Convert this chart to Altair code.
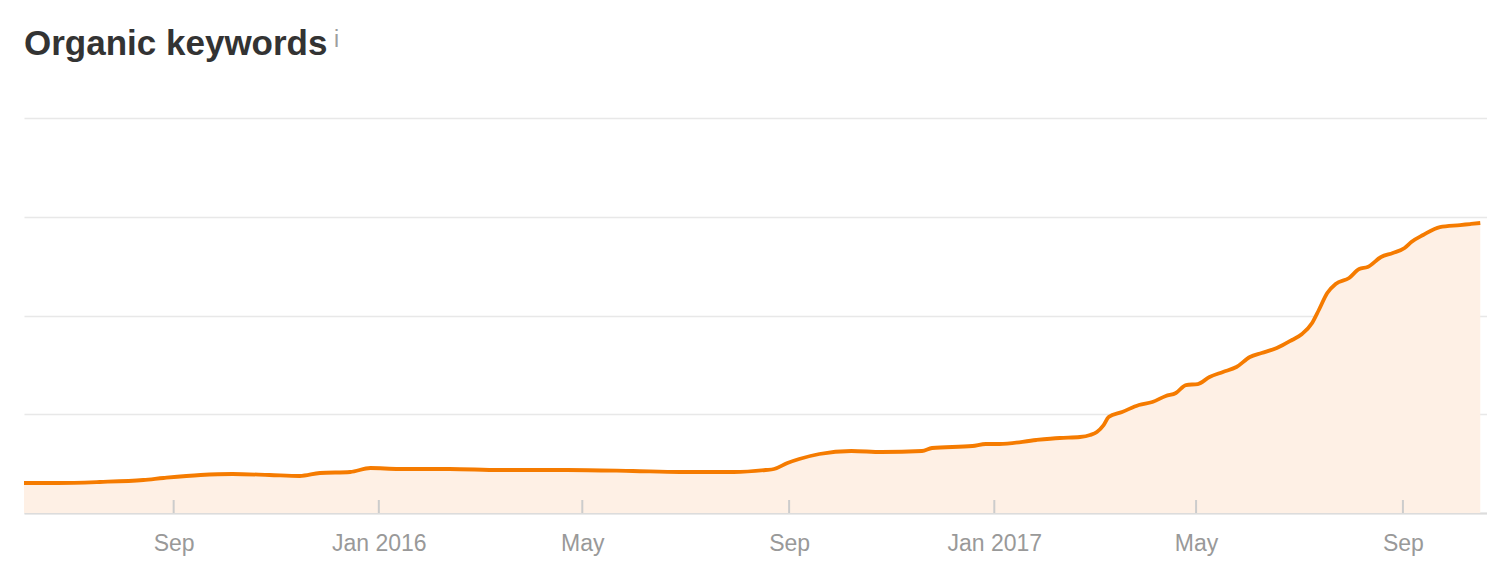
import altair as alt
import pandas as pd

# Organic keywords over time (y axis has no labels)
dates = [
    "2015-06-04", "2015-06-24", "2015-07-19", "2015-08-14", "2015-08-26",
    "2015-09-17", "2015-10-06", "2015-10-28", "2015-11-15", "2015-11-27",
    "2015-12-15", "2015-12-27", "2016-01-13", "2016-02-12", "2016-03-13",
    "2016-04-22", "2016-05-31", "2016-06-28", "2016-07-30", "2016-08-18",
    "2016-08-23", "2016-08-31", "2016-09-07", "2016-09-19", "2016-10-08",
    "2016-10-26", "2016-11-19", "2016-11-25", "2016-12-19", "2016-12-27",
    "2017-01-04", "2017-01-26", "2017-02-09", "2017-02-21", "2017-02-27",
    "2017-03-03", "2017-03-07", "2017-03-10", "2017-03-18", "2017-03-28",
    "2017-04-05", "2017-04-13", "2017-04-19", "2017-04-25", "2017-05-02",
    "2017-05-09", "2017-05-17", "2017-05-25", "2017-06-02", "2017-06-09",
    "2017-06-18", "2017-06-27", "2017-07-03", "2017-07-09", "2017-07-13",
    "2017-07-18", "2017-07-23", "2017-07-31", "2017-08-06", "2017-08-11",
    "2017-08-19", "2017-08-26", "2017-09-02", "2017-09-06", "2017-09-13",
    "2017-09-23", "2017-10-05", "2017-10-11", "2017-10-17",
]
values = [
    1519, 1519, 1570, 1671, 1772,
    1924, 1975, 1924, 1873, 2025,
    2076, 2278, 2228, 2228, 2177,
    2177, 2126, 2076, 2076, 2177,
    2228, 2532, 2734, 2987, 3139,
    3088, 3139, 3291, 3392, 3493,
    3493, 3696, 3797, 3848, 3949,
    4101, 4455, 4860, 5114, 5468,
    5620, 5924, 6076, 6480, 6531,
    6886, 7139, 7392, 7898, 8101,
    8354, 8759, 9063, 9620, 10278,
    11139, 11594, 11898, 12354, 12455,
    12961, 13164, 13417, 13721, 14075,
    14480, 14581, 14632, 14683,
]

tick_dates = ["2015-09-01", "2016-01-01", "2016-05-01", "2016-09-01",
              "2017-01-01", "2017-05-01", "2017-09-01"]
grid_values = [0, 5000, 10000, 15000, 20000]

title_text = ["Organic keywords"]
info_text = ["i"]

LINE = "#F57B00"
FILL = "#FEF0E5"
W, H = 1463, 395

df = pd.DataFrame({"date": [d + "T00:00:00" for d in dates], "value": values})
ticks_df = pd.DataFrame({"date": [d + "T00:00:00" for d in tick_dates]})
info_df = pd.DataFrame({"t": info_text})
title_df = pd.DataFrame({"t": title_text})


def dt(s):
    y, m, d = (int(p) for p in s.split("-"))
    return alt.DateTime(year=y, month=m, date=d)


x_enc = alt.X(
    "date:T",
    scale=alt.Scale(domain=[dt("2015-06-04"), dt("2017-10-21")]),
    axis=alt.Axis(
        values=[dt(s) for s in tick_dates],
        labelExpr="month(datum.value) == 0 ? timeFormat(datum.value, '%b %Y') : timeFormat(datum.value, '%b')",
        title=None,
        grid=False,
        ticks=False,
        tickSize=0,
        labelPadding=19,
        labelFontSize=23,
        labelColor="#999999",
        labelFont="Liberation Sans",
        domainColor="#dcdcdc",
        domainWidth=2,
    ),
)

y_enc = alt.Y(
    "value:Q",
    scale=alt.Scale(domain=[0, 20000], nice=False),
    axis=alt.Axis(
        values=grid_values,
        labels=False,
        ticks=False,
        domain=False,
        title=None,
        gridColor="#e8e8e8",
        gridWidth=1.5,
    ),
)

area = alt.Chart(df).mark_area(color=FILL, interpolate="monotone").encode(x=x_enc, y=y_enc)
line = alt.Chart(df).mark_line(color=LINE, strokeWidth=3.8, interpolate="monotone").encode(x=x_enc, y=y_enc)
tick_rules = alt.Chart(ticks_df).mark_rule(color="#cccccc", strokeWidth=2).encode(
    x=x_enc, y=alt.value(H - 13), y2=alt.value(H)
)
title = alt.Chart(title_df).mark_text(
    align="left", baseline="alphabetic", fontSize=35, fontWeight="bold",
    color="#333333", font="Liberation Sans"
).encode(text="t:N", x=alt.value(0), y=alt.value(-63))
info = alt.Chart(info_df).mark_text(
    align="left", baseline="alphabetic", fontSize=23, color="#9e9e9e", font="Liberation Sans"
).encode(text="t:N", x=alt.value(310), y=alt.value(-71))

chart = (
    alt.layer(area, line, tick_rules, title, info)
    .properties(
        width=W,
        height=H,
        autosize=alt.AutoSizeParams(type="none"),
        padding={"left": 16, "top": 110, "right": 0, "bottom": 50},
        background="white",
    )
    .configure_view(stroke=None, strokeWidth=0)
)

chart.save("out.html", embed_options={"renderer": "svg", "actions": False})
